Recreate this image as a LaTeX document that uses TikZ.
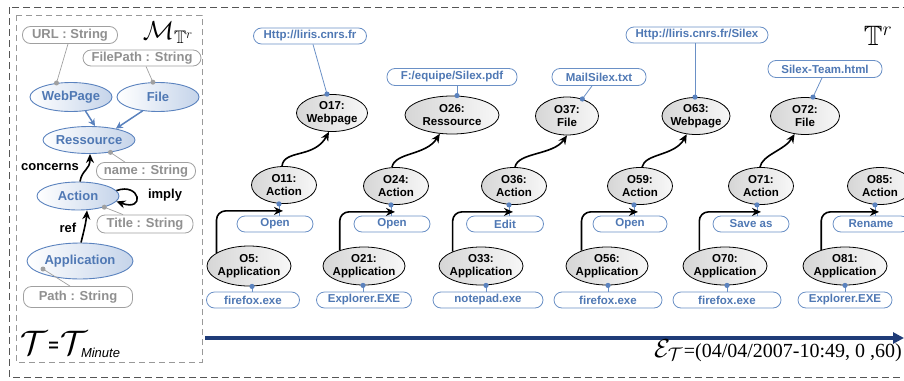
\RequirePackage{fix-cm}
\documentclass[tikz,border=0pt]{standalone}
\usepackage{amssymb}
\usepackage{fontspec}
\setmainfont{Liberation Serif}
\setsansfont{Liberation Sans}
\usetikzlibrary{shapes.geometric,arrows.meta,calc}
\definecolor{mblue}{HTML}{4F78B4}
\definecolor{mborder}{HTML}{5A82BE}
\definecolor{mfill}{HTML}{C5D4EA}
\definecolor{vborder}{HTML}{6A90C6}
\definecolor{agray}{HTML}{A0A0A0}
\definecolor{atext}{HTML}{909090}
\definecolor{navy}{HTML}{1F3C78}
\definecolor{outerdash}{HTML}{555555}
\definecolor{innerdash}{HTML}{999999}
\begin{document}
\begin{tikzpicture}[x=1pt,y=-1pt,
  meta/.style={ellipse, draw=mborder, line width=0.9pt, left color=white, right color=mfill,
    text=mblue, font=\sffamily\bfseries\fontsize{13}{15}\selectfont, inner sep=-3pt},
  attr/.style={rectangle, rounded corners=8pt, draw=agray, line width=0.8pt, fill=white,
    text=atext, font=\sffamily\bfseries\fontsize{13}{15}\selectfont, inner sep=0pt},
  inst/.style={ellipse, draw=black, line width=0.8pt, left color=black!16, right color=black!3,
    font=\sffamily\bfseries\fontsize{11.5}{13}\selectfont, align=center, inner sep=-5pt},
  val/.style={rectangle, rounded corners=8pt, draw=vborder, line width=0.8pt, fill=white,
    text=mblue, font=\sffamily\bfseries\fontsize{11.5}{13}\selectfont, inner sep=0pt,
    minimum height=16pt},
  lab/.style={font=\sffamily\bfseries\fontsize{13}{15}\selectfont, text=black, inner sep=0pt},
  flow/.style={-{Stealth[length=9pt,width=8pt]}, line width=1.6pt, black},
  isa/.style={-{Stealth[length=7pt,width=7pt]}, line width=1.5pt, mborder},
  aline/.style={agray, line width=0.7pt},
  vline/.style={vborder, line width=0.8pt},
  gdot/.style={fill=agray},
  bdot/.style={fill=mborder}
]
\useasboundingbox (0,0) rectangle (904,380);
\clip (0,0) rectangle (904,380);

% frames
\draw[outerdash, line width=1pt, dash pattern=on 7pt off 4pt] (9,7) rectangle (920,377);
\draw[innerdash, line width=0.8pt, dash pattern=on 6pt off 4pt] (16,15) rectangle (202,362);

% ===== meta model =====
\node[meta, minimum width=82pt, minimum height=29pt] (webpage) at (71,97) {WebPage};
\node[meta, minimum width=82pt, minimum height=29pt] (file) at (158,97) {File};
\node[meta, minimum width=92pt, minimum height=27pt] (ressource) at (89,140) {Ressource};
\node[meta, minimum width=82pt, minimum height=28pt] (action) at (78,196) {Action};
\node[meta, minimum width=106pt, minimum height=36pt] (application) at (80,261) {Application};

\node[attr, minimum width=95pt, minimum height=17pt] (url) at (70,35) {URL : String};
\node[attr, minimum width=118pt, minimum height=16pt] (filepath) at (142,58) {FilePath : String};
\node[attr, minimum width=99pt, minimum height=17pt] (name) at (146,171) {name : String};
\node[attr, minimum width=96pt, minimum height=18pt] (title) at (145,224) {Title : String};
\node[attr, minimum width=109pt, minimum height=21pt] (path) at (78,297) {Path : String};

\draw[aline] ([xshift=-2pt]url.south) -- (webpage.136);
\fill[gdot] (webpage.136) circle (2.5pt);
\draw[aline] ([xshift=4pt]filepath.south) -- (file.109);
\fill[gdot] (file.109) circle (2.5pt);
\draw[isa] (webpage.-44) -- ([xshift=6pt]ressource.north);
\draw[isa] (file.-138) -- (ressource.23);
\draw[aline] (ressource.-30) -- ([xshift=-21pt]name.north);
\fill[gdot] (ressource.-30) circle (2.5pt);
\draw[aline] (action.-23) -- ([xshift=-22pt]title.north);
\fill[gdot] (action.-23) circle (2.5pt);
\coordinate (appdot) at ($(application.center)+(-37,8)$);
\draw[aline] (appdot) -- ([xshift=-8pt]path.north);
\fill[gdot] (appdot) circle (2.5pt);

\draw[flow] ([xshift=2pt]action.north) .. controls +(2,-12) and +(0,16) .. ([xshift=1pt]ressource.south);
\draw[flow] ([xshift=1pt]application.north) .. controls +(3,-12) and +(-1,12) .. ([xshift=9pt]action.south);
\draw[flow] (action.8) .. controls (140,182) and (146,212) .. (action.-8);

\node[lab] (concerns) at (50,167) {concerns};
\node[lab] (imply) at (165,195) {imply};
\node[lab] (ref) at (68,228) {ref};

\node (Mlabel) at (168,33) {\fontsize{26}{26}\selectfont$\mathcal{M}_{\mathbb{T}^r}$};
\node[anchor=base west, inner sep=0pt] (tmin) at (20,354) {\fontsize{34}{34}\selectfont$\mathcal{T}$\hspace{1pt}{\sffamily\bfseries\fontsize{18}{18}\selectfont\raisebox{3pt}{=}}\hspace{2pt}$\mathcal{T}$\hspace{-7pt}\raisebox{-3pt}{\sffamily\itshape\fontsize{13}{13}\selectfont Minute}};

% ===== timeline =====
\coordinate (tl0) at (205,338);
\coordinate (tl1) at (904,338);
\draw[navy, line width=3.5pt, -{Triangle[length=11pt,width=11pt]}] (tl0) -- (tl1);
\node[anchor=base east, inner sep=0pt] (ET) at (902,357) {\fontsize{26}{26}\selectfont$\mathcal{E}_{\mathcal{T}}$\hspace{1pt}\fontsize{20}{20}\selectfont=(04/04/2007-10:49, 0 ,60)};
\node (Tr) at (878,36) {\fontsize{28}{28}\selectfont$\mathbb{T}^r$};

% ===== column 1 =====
\node[inst, minimum width=71pt, minimum height=37pt] (O17) at (332,113) {O17:\\Webpage};
\node[inst, minimum width=65pt, minimum height=37pt] (O11) at (284,185) {O11:\\Action};
\node[inst, minimum width=84pt, minimum height=40pt] (O5) at (249,266) {O5:\\Application};
\node[val, minimum width=113pt] (v17) at (310,36) {Http://liris.cnrs.fr};
\node[val, minimum width=76pt] (v11) at (275,224) {Open};
\node[val, minimum width=93pt] (v5) at (253,300) {firefox.exe};
\coordinate (d17) at ([xshift=-5pt]O17.north);
\coordinate (d11) at ([xshift=-5pt]O11.south);
\coordinate (d5) at ([xshift=3pt]O5.south);
\draw[vline] ([xshift=3pt]v17.south) -- (d17);
\draw[vline] (d11) -- (d11 |- v11.north);
\draw[vline] (d5) -- (d5 |- v5.north);
\draw[flow, rounded corners=9pt] (O5.158) |- ($(d11)+(4,7)$);
\draw[flow] ([xshift=-2pt]O11.north) .. controls +(2,-17) and +(-15,27) .. (O17.-99);
\fill[bdot] (d17) circle (2.6pt);
\fill[bdot] (d11) circle (2.6pt);
\fill[bdot] (d5) circle (2.6pt);

% ===== column 2 =====
\node[inst, minimum width=94pt, minimum height=38pt] (O26) at (452,115) {O26:\\Ressource};
\node[inst, minimum width=65pt, minimum height=37pt] (O24) at (396,186) {O24:\\Action};
\node[inst, minimum width=82pt, minimum height=38pt] (O21) at (364,266) {O21:\\Application};
\node[val, minimum width=130pt, minimum height=17pt] (v26) at (452,77) {F:/equipe/Silex.pdf};
\node[val, minimum width=76pt] (v24) at (392,224) {Open};
\node[val, minimum width=95pt] (v21) at (364,300) {Explorer.EXE};
\coordinate (d26) at ([xshift=5pt]O26.north);
\coordinate (d24) at ([xshift=-5pt]O24.south);
\coordinate (d21) at ([xshift=-1pt]O21.south);
\draw[vline] ([xshift=5pt]v26.south) -- (d26);
\draw[vline] (d24) -- (d24 |- v24.north);
\draw[vline] (d21) -- (d21 |- v21.north);
\draw[flow, rounded corners=9pt] (O21.147) |- ($(d24)+(4,7)$);
\draw[flow] ([xshift=-4pt]O24.north) .. controls +(3,-15) and +(-14,22) .. (O26.-123);
\fill[bdot] (d26) circle (2.6pt);
\fill[bdot] (d24) circle (2.6pt);
\fill[bdot] (d21) circle (2.6pt);

% ===== column 3 =====
\node[inst, minimum width=63pt, minimum height=38pt] (O37) at (567,116) {O37:\\File};
\node[inst, minimum width=65pt, minimum height=37pt] (O36) at (514,186) {O36:\\Action};
\node[inst, minimum width=84pt, minimum height=38pt] (O33) at (481,266) {O33:\\Application};
\node[val, minimum width=94pt, minimum height=17pt] (v37) at (599,77) {MailSilex.txt};
\node[val, minimum width=77pt] (v36) at (505,224) {Edit};
\node[val, minimum width=110pt] (v33) at (488,300) {notepad.exe};
\coordinate (d37) at (O37.48);
\coordinate (d36) at ([xshift=-5pt]O36.south);
\coordinate (d33) at ([xshift=5pt]O33.south);
\draw[vline] ([xshift=-7pt]v37.south) -- (d37);
\draw[vline] (d36) -- (d36 |- v36.north);
\draw[vline] (d33) -- (d33 |- v33.north);
\draw[flow, rounded corners=9pt] (O33.153) |- ($(d36)+(4,7)$);
\draw[flow] ([xshift=1pt]O36.north) .. controls +(3,-15) and +(-14,20) .. (O37.south);
\fill[bdot] (d37) circle (2.6pt);
\fill[bdot] (d36) circle (2.6pt);
\fill[bdot] (d33) circle (2.6pt);

% ===== column 4 =====
\node[inst, minimum width=68pt, minimum height=37pt] (O63) at (696,116) {O63:\\Webpage};
\node[inst, minimum width=65pt, minimum height=37pt] (O59) at (640,186) {O59:\\Action};
\node[inst, minimum width=82pt, minimum height=38pt] (O56) at (607,266) {O56:\\Application};
\node[val, minimum width=142pt] (v63) at (697,35) {Http://liris.cnrs.fr/Silex};
\node[val, minimum width=74pt] (v59) at (630,224) {Open};
\node[val, minimum width=108pt] (v56) at (608,300) {firefox.exe};
\coordinate (d63) at ([xshift=-1pt]O63.north);
\coordinate (d59) at ([xshift=-6pt]O59.south);
\coordinate (d56) at ([xshift=1pt]O56.south);
\draw[vline] ([xshift=-2pt]v63.south) -- (d63);
\draw[vline] (d59) -- (d59 |- v59.north);
\draw[vline] (d56) -- (d56 |- v56.north);
\draw[flow, rounded corners=9pt] (O56.149) |- ($(d59)+(4,7)$);
\draw[flow] ([xshift=2pt]O59.north) .. controls +(3,-14) and +(-12,22) .. (O63.-117);
\fill[bdot] (d63) circle (2.6pt);
\fill[bdot] (d59) circle (2.6pt);
\fill[bdot] (d56) circle (2.6pt);

% ===== column 5 =====
\node[inst, minimum width=69pt, minimum height=37pt] (O72) at (805,116) {O72:\\File};
\node[inst, minimum width=65pt, minimum height=37pt] (O71) at (761,186) {O71:\\Action};
\node[inst, minimum width=84pt, minimum height=38pt] (O70) at (725,266) {O70:\\Application};
\node[val, minimum width=114pt, minimum height=17pt] (v72) at (825,69) {Silex-Team.html};
\node[val, minimum width=76pt] (v71) at (751,224) {Save as};
\node[val, minimum width=108pt] (v70) at (727,300) {firefox.exe};
\coordinate (d72) at ([xshift=8pt]O72.north);
\coordinate (d71) at ([xshift=-4pt]O71.south);
\coordinate (d70) at ([xshift=2pt]O70.south);
\draw[vline] ([xshift=-3pt]v72.south) -- (d72);
\draw[vline] (d71) -- (d71 |- v71.north);
\draw[vline] (d70) -- (d70 |- v70.north);
\draw[flow, rounded corners=9pt] (O70.149) |- ($(d71)+(4,7)$);
\draw[flow] ([xshift=-1pt]O71.north) .. controls +(2,-12) and +(-10,16) .. (O72.-120);
\fill[bdot] (d72) circle (2.6pt);
\fill[bdot] (d71) circle (2.6pt);
\fill[bdot] (d70) circle (2.6pt);

% ===== column 6 =====
\node[inst, minimum width=65pt, minimum height=37pt] (O85) at (880,186) {O85:\\Action};
\node[inst, minimum width=84pt, minimum height=38pt] (O81) at (845,266) {O81:\\Application};
\node[val, minimum width=76pt] (v85) at (871,224) {Rename};
\node[val, minimum width=94pt] (v81) at (845,300) {Explorer.EXE};
\coordinate (d85) at ([xshift=-5pt]O85.south);
\coordinate (d81) at (O81.south);
\draw[vline] (d85) -- (d85 |- v85.north);
\draw[vline] (d81) -- (d81 |- v81.north);
\draw[flow, rounded corners=9pt] (O81.146) |- ($(d85)+(4,7)$);
\fill[bdot] (d85) circle (2.6pt);
\fill[bdot] (d81) circle (2.6pt);
\end{tikzpicture}
\end{document}
